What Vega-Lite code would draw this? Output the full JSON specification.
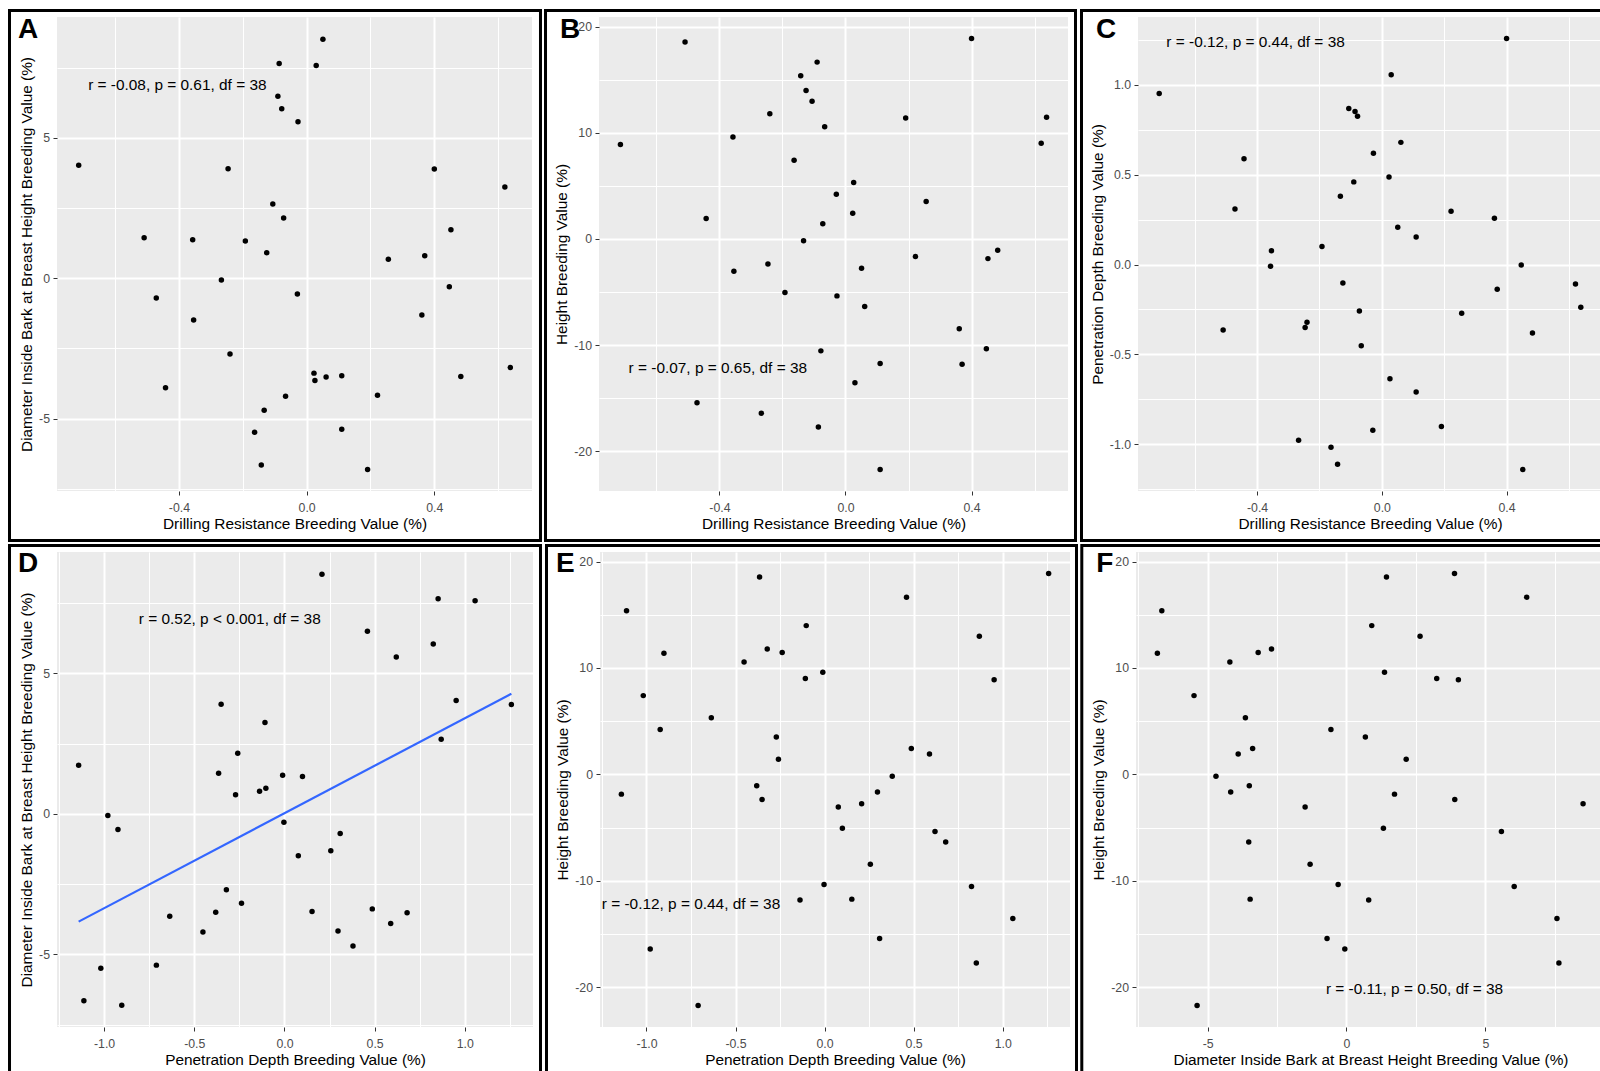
{
  "$schema": "https://vega.github.io/schema/vega-lite/v6.json",
  "padding": {"left": 8, "top": 8, "right": 0, "bottom": 0},
  "background": "white",
  "data": {
    "values": [
      {"dr": -0.714, "dib": 4.03, "ht": 8.90, "pd": 0.952},
      {"dr": 0.621, "dib": 3.25, "ht": 9.00, "pd": -0.108},
      {"dr": -0.509, "dib": 1.44, "ht": 18.55, "pd": -0.365},
      {"dr": 0.400, "dib": 3.89, "ht": 18.87, "pd": 1.258},
      {"dr": -0.090, "dib": 6.49, "ht": 16.65, "pd": 0.460},
      {"dr": -0.142, "dib": -6.65, "ht": 15.37, "pd": -1.112},
      {"dr": -0.125, "dib": 0.91, "ht": 13.98, "pd": -0.103},
      {"dr": -0.106, "dib": 2.65, "ht": 12.97, "pd": 0.869},
      {"dr": -0.240, "dib": -2.70, "ht": 11.78, "pd": -0.322},
      {"dr": 0.191, "dib": -6.81, "ht": 11.38, "pd": -0.902},
      {"dr": 0.638, "dib": -3.18, "ht": 11.46, "pd": -0.238},
      {"dr": -0.066, "dib": -4.20, "ht": 10.57, "pd": -0.452},
      {"dr": -0.357, "dib": 1.37, "ht": 9.60, "pd": -0.010},
      {"dr": -0.163, "dib": -5.49, "ht": 7.40, "pd": -1.018},
      {"dr": 0.026, "dib": -3.64, "ht": 5.31, "pd": -0.636},
      {"dr": -0.029, "dib": -0.56, "ht": 4.21, "pd": -0.923},
      {"dr": 0.256, "dib": 0.68, "ht": 3.51, "pd": -0.271},
      {"dr": -0.442, "dib": -3.90, "ht": 1.92, "pd": 0.589},
      {"dr": 0.023, "dib": -3.38, "ht": 2.42, "pd": 0.487},
      {"dr": -0.072, "dib": 2.15, "ht": 1.42, "pd": -0.259},
      {"dr": -0.133, "dib": -4.70, "ht": -0.17, "pd": 0.380},
      {"dr": 0.483, "dib": -3.50, "ht": -1.07, "pd": -0.381},
      {"dr": 0.452, "dib": 1.73, "ht": -1.86, "pd": -1.141},
      {"dr": 0.222, "dib": -4.17, "ht": -1.67, "pd": 0.297},
      {"dr": -0.246, "dib": 3.90, "ht": -2.36, "pd": -0.351},
      {"dr": 0.051, "dib": 8.52, "ht": -2.77, "pd": 0.208},
      {"dr": -0.354, "dib": -1.49, "ht": -3.06, "pd": 0.077},
      {"dr": -0.192, "dib": 1.33, "ht": -5.06, "pd": 0.100},
      {"dr": -0.027, "dib": 5.58, "ht": -5.37, "pd": 0.620},
      {"dr": 0.061, "dib": -3.52, "ht": -6.36, "pd": 0.680},
      {"dr": 0.361, "dib": -1.31, "ht": -8.46, "pd": 0.257},
      {"dr": 0.447, "dib": -0.30, "ht": -10.36, "pd": -0.003},
      {"dr": -0.078, "dib": 6.04, "ht": -10.55, "pd": 0.825},
      {"dr": 0.110, "dib": -3.47, "ht": -11.73, "pd": 0.153},
      {"dr": 0.370, "dib": 0.80, "ht": -11.82, "pd": -0.138},
      {"dr": 0.030, "dib": 7.58, "ht": -13.55, "pd": 1.057},
      {"dr": -0.471, "dib": -0.70, "ht": -15.43, "pd": 0.309},
      {"dr": -0.267, "dib": -0.06, "ht": -16.42, "pd": -0.979},
      {"dr": -0.086, "dib": 7.65, "ht": -17.73, "pd": 0.852},
      {"dr": 0.110, "dib": -5.38, "ht": -21.72, "pd": -0.710}
    ]
  },
  "columns": 3,
  "spacing": 1,
  "align": "none",
  "bounds": "full",
  "concat": [
    {
      "width": 475, "height": 474,
      "layer": [
        {
          "mark": {"type": "circle", "color": "black", "size": 30, "opacity": 1},
          "encoding": {
            "x": {"field": "dr", "type": "quantitative",
              "scale": {"domain": [-0.782, 0.706], "nice": false, "zero": false},
              "axis": {"title": "Drilling Resistance Breeding Value (%)", "values": [-0.6, -0.4, -0.2, 0, 0.2, 0.4, 0.6],
                "labelExpr": "indexof([-0.4,0,0.4], datum.value) < 0 ? '' : replace(format(datum.value, '.1f'), '\u2212', '-')",
                "gridWidth": {"condition": {"test": "indexof([-0.4,0,0.4], datum.value) < 0", "value": 1}, "value": 2},
                "tickOpacity": {"condition": {"test": "indexof([-0.4,0,0.4], datum.value) < 0", "value": 0}, "value": 1}}},
            "y": {"field": "dib", "type": "quantitative",
              "scale": {"domain": [-7.58, 9.31], "nice": false, "zero": false},
              "axis": {"title": "Diameter Inside Bark at Breast Height Breeding Value (%)", "values": [-7.5, -5, -2.5, 0, 2.5, 5, 7.5],
                "labelExpr": "indexof([-5,0,5], datum.value) < 0 ? '' : replace(format(datum.value, 'd'), '\u2212', '-')",
                "gridWidth": {"condition": {"test": "indexof([-5,0,5], datum.value) < 0", "value": 1}, "value": 2},
                "tickOpacity": {"condition": {"test": "indexof([-5,0,5], datum.value) < 0", "value": 0}, "value": 1}}}
          }
        },
        {
          "data": {"values": [{"label": "r = -0.08, p = 0.61, df = 38"}]},
          "mark": {"type": "text", "font": "Liberation Sans", "fontSize": 15.4, "color": "black", "align": "center", "baseline": "middle"},
          "encoding": {"x": {"datum": -0.405, "type": "quantitative"}, "y": {"datum": 6.9, "type": "quantitative"}, "text": {"field": "label"}}
        },
        {
          "data": {"values": [{"panel": "A"}]},
          "mark": {"type": "rect", "filled": false, "color": "black", "strokeWidth": 3},
          "encoding": {"x": {"datum": -0.9308, "type": "quantitative"}, "x2": {"datum": 0.7326}, "y": {"datum": 9.5416, "type": "quantitative"}, "y2": {"datum": -9.344}}
        },
        {
          "data": {"values": [{"panel": "A"}]},
          "mark": {"type": "text", "font": "Liberation Sans", "fontWeight": "bold", "fontSize": 28, "color": "black", "align": "left", "baseline": "alphabetic"},
          "encoding": {"x": {"datum": -0.904, "type": "quantitative"}, "y": {"datum": 8.562, "type": "quantitative"}, "text": {"field": "panel"}}
        }
      ]
    },
    {
      "width": 469, "height": 474,
      "layer": [
        {
          "mark": {"type": "circle", "color": "black", "size": 30, "opacity": 1},
          "encoding": {
            "x": {"field": "dr", "type": "quantitative",
              "scale": {"domain": [-0.782, 0.706], "nice": false, "zero": false},
              "axis": {"title": "Drilling Resistance Breeding Value (%)", "values": [-0.6, -0.4, -0.2, 0, 0.2, 0.4, 0.6],
                "labelExpr": "indexof([-0.4,0,0.4], datum.value) < 0 ? '' : replace(format(datum.value, '.1f'), '\u2212', '-')",
                "gridWidth": {"condition": {"test": "indexof([-0.4,0,0.4], datum.value) < 0", "value": 1}, "value": 2},
                "tickOpacity": {"condition": {"test": "indexof([-0.4,0,0.4], datum.value) < 0", "value": 0}, "value": 1}}},
            "y": {"field": "ht", "type": "quantitative",
              "scale": {"domain": [-23.75, 20.9], "nice": false, "zero": false},
              "axis": {"title": "Height Breeding Value (%)", "values": [-20, -15, -10, -5, 0, 5, 10, 15, 20],
                "labelExpr": "indexof([-20,-10,0,10,20], datum.value) < 0 ? '' : replace(format(datum.value, 'd'), '\u2212', '-')",
                "gridWidth": {"condition": {"test": "indexof([-20,-10,0,10,20], datum.value) < 0", "value": 1}, "value": 2},
                "tickOpacity": {"condition": {"test": "indexof([-20,-10,0,10,20], datum.value) < 0", "value": 0}, "value": 1}}}
          }
        },
        {
          "data": {"values": [{"label": "r = -0.07, p = 0.65, df = 38"}]},
          "mark": {"type": "text", "font": "Liberation Sans", "fontSize": 15.4, "color": "black", "align": "center", "baseline": "middle"},
          "encoding": {"x": {"datum": -0.405, "type": "quantitative"}, "y": {"datum": -12.2, "type": "quantitative"}, "text": {"field": "label"}}
        },
        {
          "data": {"values": [{"panel": "B"}]},
          "mark": {"type": "rect", "filled": false, "color": "black", "strokeWidth": 3},
          "encoding": {"x": {"datum": -0.9517, "type": "quantitative"}, "x2": {"datum": 0.7298}, "y": {"datum": 21.512, "type": "quantitative"}, "y2": {"datum": -28.413}}
        },
        {
          "data": {"values": [{"panel": "B"}]},
          "mark": {"type": "text", "font": "Liberation Sans", "fontWeight": "bold", "fontSize": 28, "color": "black", "align": "left", "baseline": "alphabetic"},
          "encoding": {"x": {"datum": -0.906, "type": "quantitative"}, "y": {"datum": 18.92, "type": "quantitative"}, "text": {"field": "panel"}}
        }
      ]
    },
    {
      "width": 464, "height": 474,
      "layer": [
        {
          "mark": {"type": "circle", "color": "black", "size": 30, "opacity": 1},
          "encoding": {
            "x": {"field": "dr", "type": "quantitative",
              "scale": {"domain": [-0.782, 0.706], "nice": false, "zero": false},
              "axis": {"title": "Drilling Resistance Breeding Value (%)", "values": [-0.6, -0.4, -0.2, 0, 0.2, 0.4, 0.6],
                "labelExpr": "indexof([-0.4,0,0.4], datum.value) < 0 ? '' : replace(format(datum.value, '.1f'), '\u2212', '-')",
                "gridWidth": {"condition": {"test": "indexof([-0.4,0,0.4], datum.value) < 0", "value": 1}, "value": 2},
                "tickOpacity": {"condition": {"test": "indexof([-0.4,0,0.4], datum.value) < 0", "value": 0}, "value": 1}}},
            "y": {"field": "pd", "type": "quantitative",
              "scale": {"domain": [-1.261, 1.378], "nice": false, "zero": false},
              "axis": {"title": "Penetration Depth Breeding Value (%)", "values": [-1.25, -1, -0.75, -0.5, -0.25, 0, 0.25, 0.5, 0.75, 1, 1.25],
                "labelExpr": "indexof([-1,-0.5,0,0.5,1], datum.value) < 0 ? '' : replace(format(datum.value, '.1f'), '\u2212', '-')",
                "gridWidth": {"condition": {"test": "indexof([-1,-0.5,0,0.5,1], datum.value) < 0", "value": 1}, "value": 2},
                "tickOpacity": {"condition": {"test": "indexof([-1,-0.5,0,0.5,1], datum.value) < 0", "value": 0}, "value": 1}}}
          }
        },
        {
          "data": {"values": [{"label": "r = -0.12, p = 0.44, df = 38"}]},
          "mark": {"type": "text", "font": "Liberation Sans", "fontSize": 15.4, "color": "black", "align": "center", "baseline": "middle"},
          "encoding": {"x": {"datum": -0.405, "type": "quantitative"}, "y": {"datum": 1.238, "type": "quantitative"}, "text": {"field": "label"}}
        },
        {
          "data": {"values": [{"panel": "C"}]},
          "mark": {"type": "rect", "filled": false, "color": "black", "strokeWidth": 3},
          "encoding": {"x": {"datum": -0.9632, "type": "quantitative"}, "x2": {"datum": 0.7365}, "y": {"datum": 1.4142, "type": "quantitative"}, "y2": {"datum": -1.5366}}
        },
        {
          "data": {"values": [{"panel": "C"}]},
          "mark": {"type": "text", "font": "Liberation Sans", "fontWeight": "bold", "fontSize": 28, "color": "black", "align": "left", "baseline": "alphabetic"},
          "encoding": {"x": {"datum": -0.917, "type": "quantitative"}, "y": {"datum": 1.261, "type": "quantitative"}, "text": {"field": "panel"}}
        }
      ]
    },
    {
      "width": 476, "height": 475,
      "layer": [
        {
          "mark": {"type": "circle", "color": "black", "size": 30, "opacity": 1},
          "encoding": {
            "x": {"field": "pd", "type": "quantitative",
              "scale": {"domain": [-1.261, 1.378], "nice": false, "zero": false},
              "axis": {"title": "Penetration Depth Breeding Value (%)", "values": [-1.25, -1, -0.75, -0.5, -0.25, 0, 0.25, 0.5, 0.75, 1, 1.25],
                "labelExpr": "indexof([-1,-0.5,0,0.5,1], datum.value) < 0 ? '' : replace(format(datum.value, '.1f'), '\u2212', '-')",
                "gridWidth": {"condition": {"test": "indexof([-1,-0.5,0,0.5,1], datum.value) < 0", "value": 1}, "value": 2},
                "tickOpacity": {"condition": {"test": "indexof([-1,-0.5,0,0.5,1], datum.value) < 0", "value": 0}, "value": 1}}},
            "y": {"field": "dib", "type": "quantitative",
              "scale": {"domain": [-7.58, 9.31], "nice": false, "zero": false},
              "axis": {"title": "Diameter Inside Bark at Breast Height Breeding Value (%)", "values": [-7.5, -5, -2.5, 0, 2.5, 5, 7.5],
                "labelExpr": "indexof([-5,0,5], datum.value) < 0 ? '' : replace(format(datum.value, 'd'), '\u2212', '-')",
                "gridWidth": {"condition": {"test": "indexof([-5,0,5], datum.value) < 0", "value": 1}, "value": 2},
                "tickOpacity": {"condition": {"test": "indexof([-5,0,5], datum.value) < 0", "value": 0}, "value": 1}}}
          }
        },
        {
          "transform": [{"regression": "dib", "on": "pd"}],
          "mark": {"type": "line", "color": "#3366FF", "strokeWidth": 2.2},
          "encoding": {"x": {"field": "pd", "type": "quantitative"}, "y": {"field": "dib", "type": "quantitative"}}
        },
        {
          "data": {"values": [{"label": "r = 0.52, p < 0.001, df = 38"}]},
          "mark": {"type": "text", "font": "Liberation Sans", "fontSize": 15.4, "color": "black", "align": "center", "baseline": "middle"},
          "encoding": {"x": {"datum": -0.303, "type": "quantitative"}, "y": {"datum": 6.94, "type": "quantitative"}, "text": {"field": "label"}}
        },
        {
          "data": {"values": [{"panel": "D"}]},
          "mark": {"type": "rect", "filled": false, "color": "black", "strokeWidth": 3},
          "encoding": {"x": {"datum": -1.5243, "type": "quantitative"}, "x2": {"datum": 1.4196}, "y": {"datum": 9.5411, "type": "quantitative"}, "y2": {"datum": -9.3047}}
        },
        {
          "data": {"values": [{"panel": "D"}]},
          "mark": {"type": "text", "font": "Liberation Sans", "fontWeight": "bold", "fontSize": 28, "color": "black", "align": "left", "baseline": "alphabetic"},
          "encoding": {"x": {"datum": -1.477, "type": "quantitative"}, "y": {"datum": 8.599, "type": "quantitative"}, "text": {"field": "panel"}}
        }
      ]
    },
    {
      "width": 470, "height": 475,
      "layer": [
        {
          "mark": {"type": "circle", "color": "black", "size": 30, "opacity": 1},
          "encoding": {
            "x": {"field": "pd", "type": "quantitative",
              "scale": {"domain": [-1.261, 1.378], "nice": false, "zero": false},
              "axis": {"title": "Penetration Depth Breeding Value (%)", "values": [-1.25, -1, -0.75, -0.5, -0.25, 0, 0.25, 0.5, 0.75, 1, 1.25],
                "labelExpr": "indexof([-1,-0.5,0,0.5,1], datum.value) < 0 ? '' : replace(format(datum.value, '.1f'), '\u2212', '-')",
                "gridWidth": {"condition": {"test": "indexof([-1,-0.5,0,0.5,1], datum.value) < 0", "value": 1}, "value": 2},
                "tickOpacity": {"condition": {"test": "indexof([-1,-0.5,0,0.5,1], datum.value) < 0", "value": 0}, "value": 1}}},
            "y": {"field": "ht", "type": "quantitative",
              "scale": {"domain": [-23.75, 20.9], "nice": false, "zero": false},
              "axis": {"title": "Height Breeding Value (%)", "values": [-20, -15, -10, -5, 0, 5, 10, 15, 20],
                "labelExpr": "indexof([-20,-10,0,10,20], datum.value) < 0 ? '' : replace(format(datum.value, 'd'), '\u2212', '-')",
                "gridWidth": {"condition": {"test": "indexof([-20,-10,0,10,20], datum.value) < 0", "value": 1}, "value": 2},
                "tickOpacity": {"condition": {"test": "indexof([-20,-10,0,10,20], datum.value) < 0", "value": 0}, "value": 1}}}
          }
        },
        {
          "data": {"values": [{"label": "r = -0.12, p = 0.44, df = 38"}]},
          "mark": {"type": "text", "font": "Liberation Sans", "fontSize": 15.4, "color": "black", "align": "center", "baseline": "middle"},
          "encoding": {"x": {"datum": -0.75, "type": "quantitative"}, "y": {"datum": -12.2, "type": "quantitative"}, "text": {"field": "label"}}
        },
        {
          "data": {"values": [{"panel": "E"}]},
          "mark": {"type": "rect", "filled": false, "color": "black", "strokeWidth": 3},
          "encoding": {"x": {"datum": -1.5614, "type": "quantitative"}, "x2": {"datum": 1.4145}, "y": {"datum": 21.511, "type": "quantitative"}, "y2": {"datum": -28.309}}
        },
        {
          "data": {"values": [{"panel": "E"}]},
          "mark": {"type": "text", "font": "Liberation Sans", "fontWeight": "bold", "fontSize": 28, "color": "black", "align": "left", "baseline": "alphabetic"},
          "encoding": {"x": {"datum": -1.508, "type": "quantitative"}, "y": {"datum": 19.02, "type": "quantitative"}, "text": {"field": "panel"}}
        }
      ]
    },
    {
      "width": 469, "height": 475,
      "layer": [
        {
          "mark": {"type": "circle", "color": "black", "size": 30, "opacity": 1},
          "encoding": {
            "x": {"field": "dib", "type": "quantitative",
              "scale": {"domain": [-7.58, 9.31], "nice": false, "zero": false},
              "axis": {"title": "Diameter Inside Bark at Breast Height Breeding Value (%)", "values": [-7.5, -5, -2.5, 0, 2.5, 5, 7.5],
                "labelExpr": "indexof([-5,0,5], datum.value) < 0 ? '' : replace(format(datum.value, 'd'), '\u2212', '-')",
                "gridWidth": {"condition": {"test": "indexof([-5,0,5], datum.value) < 0", "value": 1}, "value": 2},
                "tickOpacity": {"condition": {"test": "indexof([-5,0,5], datum.value) < 0", "value": 0}, "value": 1}}},
            "y": {"field": "ht", "type": "quantitative",
              "scale": {"domain": [-23.75, 20.9], "nice": false, "zero": false},
              "axis": {"title": "Height Breeding Value (%)", "values": [-20, -15, -10, -5, 0, 5, 10, 15, 20],
                "labelExpr": "indexof([-20,-10,0,10,20], datum.value) < 0 ? '' : replace(format(datum.value, 'd'), '\u2212', '-')",
                "gridWidth": {"condition": {"test": "indexof([-20,-10,0,10,20], datum.value) < 0", "value": 1}, "value": 2},
                "tickOpacity": {"condition": {"test": "indexof([-20,-10,0,10,20], datum.value) < 0", "value": 0}, "value": 1}}}
          }
        },
        {
          "data": {"values": [{"label": "r = -0.11, p = 0.50, df = 38"}]},
          "mark": {"type": "text", "font": "Liberation Sans", "fontSize": 15.4, "color": "black", "align": "center", "baseline": "middle"},
          "encoding": {"x": {"datum": 2.45, "type": "quantitative"}, "y": {"datum": -20.2, "type": "quantitative"}, "text": {"field": "label"}}
        },
        {
          "data": {"values": [{"panel": "F"}]},
          "mark": {"type": "rect", "filled": false, "color": "black", "strokeWidth": 3},
          "encoding": {"x": {"datum": -9.532, "type": "quantitative"}, "x2": {"datum": 9.58}, "y": {"datum": 21.511, "type": "quantitative"}, "y2": {"datum": -28.309}}
        },
        {
          "data": {"values": [{"panel": "F"}]},
          "mark": {"type": "text", "font": "Liberation Sans", "fontWeight": "bold", "fontSize": 28, "color": "black", "align": "left", "baseline": "alphabetic"},
          "encoding": {"x": {"datum": -9.01, "type": "quantitative"}, "y": {"datum": 19.02, "type": "quantitative"}, "text": {"field": "panel"}}
        }
      ]
    }
  ],
  "config": {
    "view": {"fill": "#EBEBEB", "stroke": null},
    "axis": {
      "domain": false,
      "gridColor": "#FFFFFF",
      "labelFont": "Liberation Sans",
      "labelFontSize": 12.3,
      "labelColor": "#4D4D4D",
      "labelOverlap": false,
      "labelFlush": false,
      "titleFont": "Liberation Sans",
      "titleFontSize": 15.4,
      "titleFontWeight": "normal",
      "titleColor": "#000000",
      "tickColor": "#333333",
      "tickSize": 4,
      "tickWidth": 1
    },
    "axisX": {"labelPadding": 6.5, "titlePadding": 3},
    "axisY": {"labelPadding": 3.5, "titlePadding": 4}
  }
}
